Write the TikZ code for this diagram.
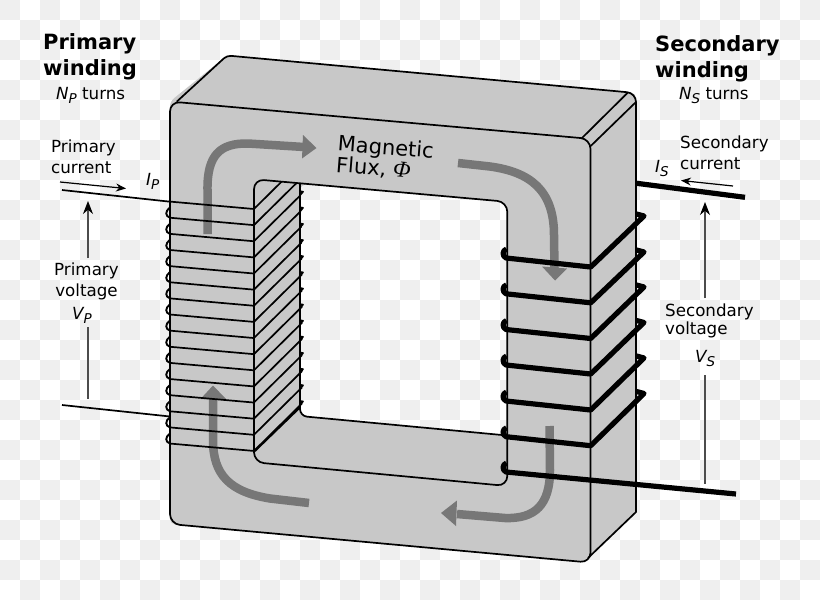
\documentclass[tikz,border=0pt]{standalone}
\usepackage{fontspec}
\setmainfont{DejaVu Sans}
\newfontfamily\phifont{Liberation Serif}
\usetikzlibrary{arrows.meta}
\definecolor{coregray}{HTML}{C8C8C8}
\definecolor{fluxgray}{HTML}{777777}
\definecolor{chk}{HTML}{EFEFEF}
\newcommand{\chkboard}{%
  \fill[white] (0,0) rectangle (820,600);
  \foreach \i in {0,...,40}{\foreach \j in {0,...,29}{%
    \pgfmathparse{int(mod(\i+\j,2))}%
    \ifnum\pgfmathresult=0 \fill[chk] (20*\i,20*\j) rectangle (20*\i+20,20*\j+20);\fi
  }}}
\newcommand{\subs}[1]{\raisebox{-4.5pt}{\fontsize{13.5}{13.5}\selectfont\itshape #1}}
\tikzset{
  corepath/.style={draw=black,line width=1.7pt,line join=round},
  wirep/.style={draw=black,line width=1.7pt,line join=round},
  wires/.style={draw=black,line width=5.2pt,line join=round},
  flux/.style={draw=fluxgray,line width=8.5pt},
  fluxhead/.style={fill=fluxgray},
  lab/.style={anchor=base west,inner sep=0pt,font=\fontsize{16.7}{20.5}\selectfont,align=left},
  title/.style={anchor=base west,inner sep=0pt,font=\fontsize{21}{26}\selectfont\bfseries,align=left},
  curarrow/.style={draw=black,line width=1.2pt,-{Stealth[length=10pt,width=8pt]}},
  volt/.style={draw=black!70,line width=1.1pt},
  voltarrow/.style={draw=black!70,line width=1.1pt,-{Stealth[length=13pt,width=10pt,color=black]}}
}
\begin{document}
\begin{tikzpicture}[x=1pt,y=-1pt]
\useasboundingbox (0,0) rectangle (820,600);
\chkboard
% silhouette fill
\fill[coregray,rounded corners=5pt] (170,101.5) -- (227,55.5) -- (636,93) -- (636,512) -- (590.5,556) -- (585,562.6) -- (170,524) -- cycle;
% window
\begin{scope}
\clip[rounded corners=8pt] (300,183.8) -- (507.3,201.8) -- (507.3,436) -- (300,416) -- cycle;
\chkboard
\end{scope}
% flux arrows
\draw[flux] (207.5,234) -- (207.5,190) .. controls (207,155) and (220,143) .. (248,143.5) -- (304,147);
\fill[fluxhead] (303,135) -- (316.5,148) -- (302,158.5) -- cycle;
\draw[flux] (458,163) -- (490,166.5) .. controls (530,172) and (554,190) .. (554,235) -- (554.5,268);
\fill[fluxhead] (542,266.5) -- (567,268.5) -- (555,280.5) -- cycle;
\draw[flux] (549.5,426) -- (550,470) .. controls (550,505) and (535,519) .. (505,518) -- (457,514);
\fill[fluxhead] (457,500.5) -- (441,513) -- (456,526) -- cycle;
\draw[flux] (309,503) -- (270,498.5) .. controls (230,492) and (213,475) .. (213,440) -- (213,397);
\fill[fluxhead] (200.5,399) -- (213,385.5) -- (226,399) -- cycle;
% core outlines
\draw[corepath,rounded corners=10pt] (170,101.5) -- (590.5,138.9) -- (590.5,562.6) -- (170,524) -- cycle;
\draw[corepath,rounded corners=10pt] (254,179.2) -- (507.3,201.8) -- (507.3,486) -- (254,462.2) -- cycle;
\draw[corepath,rounded corners=4pt] (176.7,101.7) -- (227,55.5) [rounded corners=9pt] -- (636,93) -- (636,300);
\draw[corepath] (636,290) -- (636,512) -- (588,558);
\draw[corepath] (581.7,138.3) -- (627.7,92.7);
\draw[corepath] (590.7,146) -- (636,102);
\draw[corepath,rounded corners=7pt] (300,183.8) -- (300,416) -- (507.3,435.5);
\draw[corepath,line cap=round] (254,452) -- (300,407.5);
% primary winding
\draw[wirep] (62,190) -- (170,201.7);
\draw[wirep] (62,405) -- (170,416.5);
\begin{scope}
\clip (254,179.2) -- (300,183.8) -- (310,410) -- (254,470) -- cycle;
\foreach \k in {0,...,15}{
  \pgfmathsetmacro{\yy}{209+16.13*\k}
  \draw[wirep] (253,\yy+0.9) -- (302,\yy-47.5);
}
\end{scope}
\foreach \k in {0,...,15}{
  \pgfmathsetmacro{\yy}{209+16.13*\k}
  \draw[wirep] (170,\yy-7.4) -- (254,\yy);
  \ifnum\k>0
    \draw[draw=black,line width=1.9pt] (170,\yy-7.4) .. controls (165,\yy-9) and (165,\yy-14) .. (170,\yy-17.6);
  \fi
  \ifnum\k>1
    \draw[wirep] (299.5,\yy-45.5) -- (303,\yy-49.5) -- (300,\yy-50);
  \fi
}
% secondary winding
\draw[wires] (636.7,183.3) -- (745,197.3);
\foreach \yy/\yr in {267/216,302.8/252,338.5/287,374/322.5,410/358,445.7/393.5}{
  \draw[wires] (506.5,\yy-18) .. controls (502,\yy-16.5) and (502,\yy-11) .. (506,\yy-9) -- (590.7,\yy) -- (644,\yr) -- (636.5,\yr-2);
}
\draw[wires] (506.5,463) .. controls (502,464.5) and (502,470) .. (506,472) -- (736,494);
% current and voltage arrows
\coordinate (pc1) at (60,182); \coordinate (pc2) at (126,188.5);
\coordinate (sc1) at (733,186); \coordinate (sc2) at (681,180.5);
\coordinate (pv1) at (88,258); \coordinate (pv2) at (88,201);
\coordinate (pv3) at (88,327); \coordinate (pv4) at (88,399);
\coordinate (sv1) at (705,298); \coordinate (sv2) at (705,202);
\coordinate (sv3) at (705,375); \coordinate (sv4) at (705,484);
\draw[curarrow] (pc1) -- (pc2);
\draw[curarrow] (sc1) -- (sc2);
\draw[voltarrow] (pv1) -- (pv2);
\draw[volt] (pv3) -- (pv4);
\draw[voltarrow] (sv1) -- (sv2);
\draw[volt] (sv3) -- (sv4);
% text
\node[title] (pw) at (43,75.5) {Primary\\winding};
\node[title] (sw) at (655,77) {Secondary\\winding};
\node[lab] (np) at (56,99) {\itshape N\subs{P}\upshape{} turns};
\node[lab] (ns) at (679,99) {\itshape N\subs{S}\upshape{} turns};
\node[lab] (pc) at (51,173) {Primary\\current};
\node[lab] (sc) at (680,169) {Secondary\\current};
\node[lab] (ip) at (146,185) {\itshape I\subs{P}};
\node[lab] (is) at (655,172) {\itshape I\subs{S}};
\node[lab,align=center] (pv) at (54,296) {Primary\\voltage};
\node[lab] (vp) at (72,319) {\itshape V\subs{P}};
\node[lab,font=\fontsize{16.7}{17.5}\selectfont] (sv) at (665,334) {Secondary\\voltage};
\node[lab] (vs) at (695,362) {\itshape V\subs{S}};
\node[lab,font=\fontsize{21}{20}\selectfont,rotate=-4.5,anchor=base west] (mf) at (335.5,172) {Magnetic\\Flux, {\phifont\itshape\fontsize{23}{20}\selectfont Φ}};
\end{tikzpicture}
\end{document}
